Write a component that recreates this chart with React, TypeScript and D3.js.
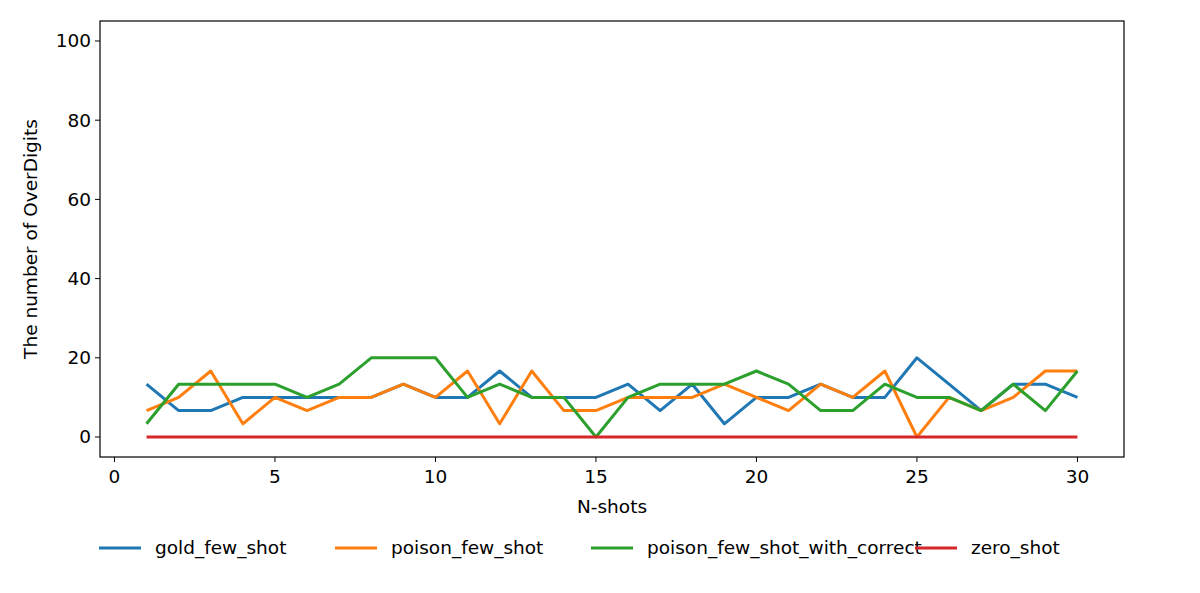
import * as d3 from 'd3';

const xs = d3.range(1, 31);
const U = 100 / 30;
const goldFewShot = [4,2,2,3,3,3,3,3,4,3,3,5,3,3,3,4,2,4,1,3,3,4,3,3,6,4,2,4,4,3].map(k => k * U);
const poisonFewShot = [2,3,5,1,3,2,3,3,4,3,5,1,5,2,2,3,3,3,4,3,2,4,3,5,0,3,2,3,5,5].map(k => k * U);
const poisonWithCorrect = [1,4,4,4,4,3,4,6,6,6,3,4,3,3,0,3,4,4,4,5,4,2,2,4,3,3,2,4,2,5].map(k => k * U);
const zeroShot = xs.map(() => 0);

const series = [
  { name: 'gold_few_shot', color: '#1f77b4', values: goldFewShot, lx: 99 },
  { name: 'poison_few_shot', color: '#ff7f0e', values: poisonFewShot, lx: 335 },
  { name: 'poison_few_shot_with_correct', color: '#2ca02c', values: poisonWithCorrect, lx: 591 },
  { name: 'zero_shot', color: '#d62728', values: zeroShot, lx: 915 },
];
const xTicks = [0, 5, 10, 15, 20, 25, 30];
const yTicks = [0, 20, 40, 60, 80, 100];

export default function App() {
  const L = 100, R = 1124, T = 21, B = 457;
  const x = d3.scaleLinear().domain([-0.45, 31.45]).range([L, R]);
  const y = d3.scaleLinear().domain([-5.05, 105.05]).range([B, T]);
  const line = d3.line<number>().x((_, i) => x(xs[i])).y(d => y(d));
  const font = 'DejaVu Sans, sans-serif';
  const fs = 18.5;
  return (
    <svg width={1200} height={593} style={{ position: 'absolute', left: 0, top: 0 }} fontFamily={font}>
      <rect width={1200} height={593} fill="#fff" />
      {series.map(s => (
        <path key={s.name} d={line(s.values) ?? ''} fill="none" stroke={s.color} strokeWidth={3} strokeLinejoin="round" />
      ))}
      <rect x={L} y={T} width={R - L} height={B - T} fill="none" stroke="#000" strokeWidth={1.2} />
      {xTicks.map(t => (
        <g key={t} transform={`translate(${x(t)},${B})`}>
          <line y2={5} stroke="#000" />
          <text y={26} textAnchor="middle" fontSize={fs}>{t}</text>
        </g>
      ))}
      {yTicks.map(t => (
        <g key={t} transform={`translate(${L},${y(t)})`}>
          <line x2={-5} stroke="#000" />
          <text x={-9} dy="0.35em" textAnchor="end" fontSize={fs}>{t}</text>
        </g>
      ))}
      <text x={(L + R) / 2} y={513} textAnchor="middle" fontSize={fs}>N-shots</text>
      <text transform={`translate(37,${(T + B) / 2}) rotate(-90)`} textAnchor="middle" fontSize={fs}>The number of OverDigits</text>
      {series.map(s => (
        <g key={s.name} transform={`translate(${s.lx},548)`}>
          <line x2={42} stroke={s.color} strokeWidth={3} />
          <text x={56} dy="0.35em" fontSize={fs}>{s.name}</text>
        </g>
      ))}
    </svg>
  );
}
